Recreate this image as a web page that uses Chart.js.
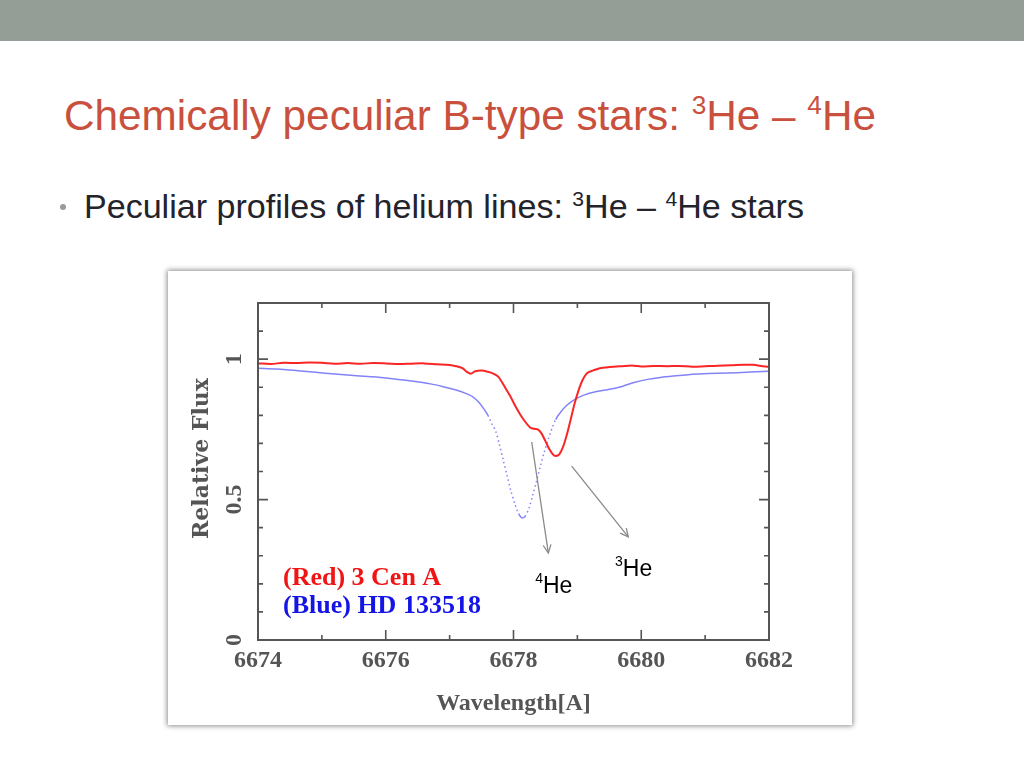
<!DOCTYPE html>
<html><head><meta charset="utf-8">
<script src="https://cdn.jsdelivr.net/npm/chart.js@4.4.1/dist/chart.umd.min.js"></script>
<style>
html,body{margin:0;padding:0;background:#fff;width:1024px;height:768px;overflow:hidden;font-family:"Liberation Sans",Arial,sans-serif;}
#bar{position:absolute;left:0;top:0;width:1024px;height:41px;background:#949e97;}
#title{position:absolute;left:64px;top:95px;font-size:42px;line-height:1;color:#c9503d;white-space:nowrap;transform-origin:0 0;}
#bullet{position:absolute;left:84px;top:190px;font-size:33px;line-height:1;color:#23232b;white-space:nowrap;transform-origin:0 0;}
#dot{position:absolute;left:60px;top:204px;width:6px;height:6px;border-radius:3px;background:#9a9a9a;}
.sp{font-size:0.62em;position:relative;top:-0.6em;}
#frame{position:absolute;left:168px;top:271px;width:684px;height:454px;background:#fff;box-shadow:0 0 5px 1px rgba(0,0,0,0.45);}
#c{position:absolute;left:0;top:0;}
</style></head>
<body>
<div id="bar"></div>
<div id="title">Chemically peculiar B-type stars: <span class="sp">3</span>He – <span class="sp">4</span>He</div>
<div id="dot"></div>
<div id="bullet">Peculiar profiles of helium lines: <span class="sp">3</span>He – <span class="sp">4</span>He stars</div>
<div id="frame"><canvas id="c" width="684" height="454"></canvas></div>
<script>
// ---- data ----
const redWave = [6674.0,6674.2,6674.4,6674.6,6674.8,6675.0,6675.2,6675.4,6675.6,6675.8,6676.0,6676.2,6676.4,6676.6,6676.8,6677.0,6677.1,6677.2,6677.27,6677.33,6677.4,6677.5,6677.6,6677.7,6677.76,6677.82,6677.88,6677.95,6678.03,6678.1,6678.18,6678.26,6678.32,6678.38,6678.44,6678.5,6678.56,6678.62,6678.66,6678.72,6678.78,6678.84,6678.9,6678.96,6679.02,6679.08,6679.15,6679.25,6679.35,6679.5,6679.7,6679.87,6680.0,6680.2,6680.4,6680.6,6680.8,6681.0,6681.2,6681.4,6681.6,6681.75,6681.9,6682.0];
const redFlux = [0.985,0.983,0.987,0.986,0.988,0.987,0.984,0.986,0.984,0.986,0.985,0.983,0.984,0.985,0.982,0.979,0.975,0.968,0.955,0.948,0.957,0.960,0.955,0.947,0.938,0.918,0.895,0.868,0.832,0.805,0.778,0.757,0.752,0.750,0.735,0.708,0.680,0.660,0.655,0.662,0.690,0.735,0.790,0.845,0.890,0.925,0.950,0.960,0.968,0.972,0.975,0.977,0.974,0.976,0.975,0.976,0.973,0.975,0.977,0.978,0.980,0.980,0.975,0.972];
const blueWave = [6674.0,6674.3,6674.6,6674.9,6675.2,6675.5,6675.8,6676.1,6676.4,6676.7,6676.9,6677.1,6677.25,6677.37,6677.45,6677.53,6677.6,6677.66,6677.72,6677.78,6677.84,6677.9,6677.96,6678.02,6678.08,6678.13,6678.18,6678.24,6678.3,6678.36,6678.42,6678.48,6678.54,6678.6,6678.66,6678.74,6678.83,6678.95,6679.1,6679.3,6679.5,6679.7,6679.9,6680.1,6680.3,6680.5,6680.7,6680.9,6681.2,6681.5,6681.8,6682.0];
const blueFlux = [0.968,0.965,0.960,0.953,0.947,0.942,0.937,0.930,0.922,0.912,0.902,0.890,0.878,0.865,0.848,0.825,0.800,0.770,0.745,0.695,0.640,0.585,0.530,0.485,0.450,0.435,0.440,0.468,0.515,0.565,0.618,0.668,0.712,0.752,0.785,0.812,0.835,0.855,0.872,0.885,0.893,0.903,0.918,0.928,0.935,0.940,0.944,0.947,0.950,0.952,0.955,0.957];
const seriesNames = ['(Red) 3 Cen A','(Blue) HD 133518'];
const xRange = [6674, 6682];
const yRange = [0, 1.2];
const xMajorStep = 2, xMinorStep = 1;
const yMajorStep = 0.5, yMinorStep = 0.1;
const xTickLabels = ['6674','6676','6678','6680','6682'];
const yTickLabels = ['0','0.5','1'];
const xTitle = 'Wavelength[A]';
const yTitle = 'Relative Flux';
const arrowStart = [[6678.285,0.705],[6678.911,0.619]];
const arrowEnd = [[6678.545,0.310],[6679.797,0.367]];
const noteText = [['4','He'],['3','He']];
const noteAt = [[6678.34,0.168],[6679.59,0.229]];

const serif = '"Liberation Serif","Times New Roman",serif';
const axisGray = '#555555';

const frameTicks = {
  id:'frameTicks',
  afterDatasetsDraw(chart){
    const {ctx, chartArea:a, scales:{x,y}} = chart;
    ctx.save();
    ctx.strokeStyle = axisGray; ctx.lineWidth = 2;
    ctx.strokeRect(a.left, a.top, a.right-a.left, a.bottom-a.top);
    ctx.lineWidth = 1.6;
    const nx = Math.round((xRange[1]-xRange[0])/xMinorStep);
    for(let i=1;i<nx;i++){
      const v = xRange[0]+i*xMinorStep;
      const r = (v-xRange[0])/xMajorStep;
      const major = Math.abs(r-Math.round(r))<1e-6;
      const L = major?10:5, px = x.getPixelForValue(v);
      ctx.beginPath();
      ctx.moveTo(px,a.bottom); ctx.lineTo(px,a.bottom-L);
      ctx.moveTo(px,a.top); ctx.lineTo(px,a.top+L);
      ctx.stroke();
    }
    const ny = Math.round((yRange[1]-yRange[0])/yMinorStep);
    for(let i=1;i<ny;i++){
      const v = yRange[0]+i*yMinorStep;
      const r = v/yMajorStep;
      const major = Math.abs(r-Math.round(r))<1e-6;
      const L = major?10:5, py = y.getPixelForValue(v);
      ctx.beginPath();
      ctx.moveTo(a.left,py); ctx.lineTo(a.left+L,py);
      ctx.moveTo(a.right,py); ctx.lineTo(a.right-L,py);
      ctx.stroke();
    }
    // annotation arrows
    ctx.strokeStyle = '#8a8a8a'; ctx.lineWidth = 1.3;
    for(let i=0;i<arrowStart.length;i++){
      const x0=x.getPixelForValue(arrowStart[i][0]), y0=y.getPixelForValue(arrowStart[i][1]);
      const x1=x.getPixelForValue(arrowEnd[i][0]), y1=y.getPixelForValue(arrowEnd[i][1]);
      ctx.beginPath(); ctx.moveTo(x0,y0); ctx.lineTo(x1,y1); ctx.stroke();
      const ang=Math.atan2(y1-y0,x1-x0), h=9, w=0.45;
      ctx.beginPath();
      ctx.moveTo(x1-h*Math.cos(ang-w), y1-h*Math.sin(ang-w));
      ctx.lineTo(x1,y1);
      ctx.lineTo(x1-h*Math.cos(ang+w), y1-h*Math.sin(ang+w));
      ctx.stroke();
    }
    ctx.fillStyle='#000';
    ctx.textBaseline='alphabetic'; ctx.textAlign='left';
    for(let i=0;i<noteAt.length;i++){
      const px=x.getPixelForValue(noteAt[i][0]), py=y.getPixelForValue(noteAt[i][1]);
      ctx.font='14px "Liberation Sans",Arial,sans-serif';
      ctx.fillText(noteText[i][0], px, py-10);
      const w0=ctx.measureText(noteText[i][0]).width;
      ctx.font='23px "Liberation Sans",Arial,sans-serif';
      ctx.fillText(noteText[i][1], px+w0, py);
    }
    // text legend
    ctx.font = 'bold 26px '+serif;
    chart.data.datasets.forEach((ds,i)=>{
      ctx.fillStyle = ds.textColor;
      ctx.fillText(ds.label, a.left+25, a.bottom-55+i*28);
    });
    // y axis title
    ctx.save();
    ctx.translate(a.left-56, (a.top+a.bottom)/2 - 13);
    ctx.rotate(-Math.PI/2);
    ctx.font = 'bold 22px "DejaVu Serif",serif';
    ctx.fillStyle = axisGray; ctx.textAlign='center'; ctx.textBaseline='middle';
    ctx.fillText(yTitle, 0, 0);
    ctx.restore();
    ctx.restore();
  }
};

const steep = (c)=> {
  const dy = Math.abs(c.p1.parsed.y-c.p0.parsed.y), dx = Math.abs(c.p1.parsed.x-c.p0.parsed.x);
  return dy/dx > 0.4 ? [1.5,3] : undefined;
};

new Chart(document.getElementById('c'), {
  type:'line',
  data:{datasets:[
    {label:seriesNames[0], data:redWave.map((w,i)=>({x:w,y:redFlux[i]})), borderColor:'rgba(250,25,25,0.95)', textColor:'#f01414', borderWidth:2, pointRadius:0, tension:0.3},
    {label:seriesNames[1], data:blueWave.map((w,i)=>({x:w,y:blueFlux[i]})), borderColor:'rgba(90,90,245,0.75)', textColor:'#1414e6', borderWidth:1.5, pointRadius:0, tension:0.3, segment:{borderDash:steep}}
  ]},
  options:{
    responsive:false, animation:false, devicePixelRatio:1,
    layout:{padding:{top:32,right:83,left:0,bottom:0}},
    plugins:{legend:{display:false},tooltip:{enabled:false}},
    scales:{
      x:{type:'linear', min:xRange[0], max:xRange[1],
        ticks:{stepSize:xMajorStep, maxRotation:0, padding:6, color:axisGray,
          font:{family:serif,size:24,weight:'bold'},
          callback:(v)=>{const i=xTickLabels.indexOf(String(v)); return i>=0?xTickLabels[i]:'';}},
        grid:{display:false, drawTicks:false}, border:{display:false},
        title:{display:true, text:xTitle, color:axisGray, font:{family:serif,size:24,weight:'bold'}, padding:{top:0,bottom:7}},
        afterFit(s){s.height=85;}
      },
      y:{type:'linear', min:yRange[0], max:yRange[1],
        ticks:{stepSize:yMajorStep, minRotation:90, maxRotation:90, padding:8, crossAlign:'center', color:axisGray, includeBounds:false,
          font:{family:serif,size:24,weight:'bold'},
          callback:(v)=>{const s=String(Math.round(v*10)/10); return yTickLabels.includes(s)?s:'';}},
        grid:{display:false, drawTicks:false}, border:{display:false},
        afterFit(s){s.width=90;}
      }
    }
  },
  plugins:[frameTicks]
});

function fitWidth(id, target){
  const el=document.getElementById(id);
  const w=el.getBoundingClientRect().width;
  el.style.transform='scaleX('+(target/w)+')';
}
fitWidth('title', 812);
fitWidth('bullet', 720);
</script>
</body></html>
